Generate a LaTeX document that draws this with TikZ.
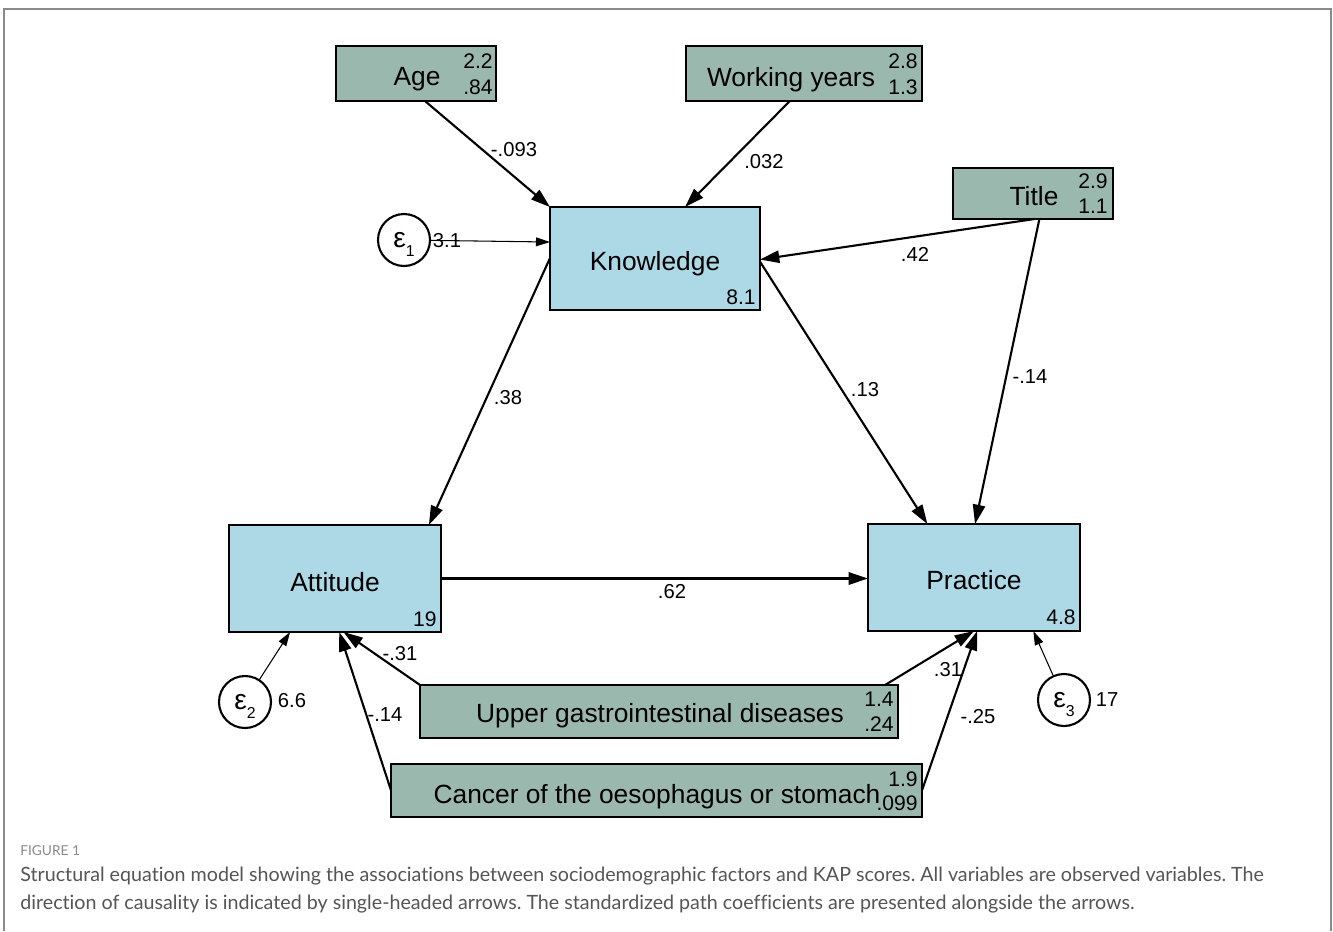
\documentclass[tikz,border=0pt]{standalone}
\usepackage{fontspec}
\setmainfont{Liberation Sans}
\newfontfamily\capfont[Ligatures=NoCommon]{Lato}
\usetikzlibrary{arrows.meta,calc}

\definecolor{obsgreen}{HTML}{9BB8AF}
\definecolor{latblue}{HTML}{ADD8E6}
\definecolor{framegray}{HTML}{8A8A8A}
\definecolor{capgray}{HTML}{555555}

\newcommand{\errlabel}[1]{ε\smash{\raisebox{-5pt}{\fontsize{9}{9}\selectfont #1}}}

\begin{document}
\frenchspacing
\begin{tikzpicture}[x=0.02cm,y=-0.02cm,
 gbox/.style={draw=black,line width=1.4pt,fill=obsgreen,inner sep=0,outer sep=0},
 bbox/.style={draw=black,line width=1.4pt,fill=latblue,inner sep=0,outer sep=0},
 lab/.style={font=\fontsize{15}{18}\selectfont,inner sep=0,anchor=base},
 num/.style={font=\fontsize{12}{14}\selectfont,inner sep=0,anchor=east},
 coef/.style={font=\fontsize{11.5}{14}\selectfont,inner sep=0},
 patharrow/.style={line width=1.2pt,-{Triangle[length=11pt,width=7pt]}},
 errarrow/.style={line width=0.6pt,-{Triangle[length=8pt,width=5pt]}},
 err/.style={circle,draw=black,line width=1.2pt,minimum size=1.04cm,inner sep=0,font=\fontsize{16}{18}\selectfont},
 captxt/.style={font=\capfont\fontsize{11.2}{13}\selectfont,text=capgray,inner sep=0,anchor=base west},
]
\useasboundingbox (0,0) rectangle (1333,931);
\fill[white] (0,0) rectangle (1333,931);
\draw[framegray,line width=1.2pt] (4,931) -- (4,9) -- (1331,9) -- (1331,931);

% boxes
\node[gbox,minimum width=3.2cm,minimum height=1.1cm] (age) at (416,73.5) {};
\node[gbox,minimum width=4.72cm,minimum height=1.1cm] (wy) at (804,73.5) {};
\node[gbox,minimum width=3.2cm,minimum height=1.02cm] (title) at (1033,193.5) {};
\node[bbox,minimum width=4.2cm,minimum height=2.06cm] (know) at (655,258.5) {};
\node[bbox,minimum width=4.24cm,minimum height=2.14cm] (att) at (335,578.5) {};
\node[bbox,minimum width=4.24cm,minimum height=2.14cm] (prac) at (974,577.5) {};
\node[gbox,minimum width=9.56cm,minimum height=1.06cm] (ugi) at (659,711.5) {};
\node[gbox,minimum width=10.62cm,minimum height=1.06cm] (can) at (656.5,790.5) {};

% box labels
\node[lab] (ageT) at (417,85) {Age};
\node[lab] (wyT) at (791,86) {Working years};
\node[lab] (titleT) at (1034,205) {Title};
\node[lab] (knowT) at (655,270) {Knowledge};
\node[lab] (attT) at (335,591) {Attitude};
\node[lab] (pracT) at (974,589) {Practice};
\node[lab] (ugiT) at (660,722) {Upper gastrointestinal diseases};
\node[lab] (canT) at (657,803) {Cancer of the oesophagus or stomach};

% box numbers
\node[num] (ageA) at (493,61) {2.2};
\node[num] (ageB) at (493,87) {.84};
\node[num] (wyA) at (918,61) {2.8};
\node[num] (wyB) at (918,87) {1.3};
\node[num] (titleA) at (1108,181) {2.9};
\node[num] (titleB) at (1108,206) {1.1};
\node[num] (knowA) at (756,297) {8.1};
\node[num] (attA) at (437,619) {19};
\node[num] (pracA) at (1076,617) {4.8};
\node[num] (ugiA) at (894,699) {1.4};
\node[num] (ugiB) at (894,724) {.24};
\node[num] (canA) at (918,779) {1.9};
\node[num] (canB) at (918,803) {.099};

% error terms
\node[err] (e1) at (404,240) {\errlabel{1}};
\node[err] (e2) at (245,702) {\errlabel{2}};
\node[err] (e3) at (1064,700) {\errlabel{3}};

% paths
\draw[patharrow] ($(age.south west)!0.556!(age.south east)$) -- (know.north west);
\draw[patharrow] ($(wy.south west)!0.44!(wy.south east)$) -- ($(know.north west)!0.643!(know.north east)$);
\draw[patharrow] ($(title.south west)!0.51!(title.south east)$) -- ($(know.north east)!0.51!(know.south east)$);
\draw[patharrow] ($(title.south west)!0.54!(title.south east)$) -- ($(prac.north west)!0.505!(prac.north east)$);
\draw[errarrow] (e1) -- ($(know.north west)!0.34!(know.south west)$);
\draw[patharrow] ($(know.north west)!0.495!(know.south west)$) -- ($(att.north west)!0.943!(att.north east)$);
\draw[patharrow] ($(know.north east)!0.53!(know.south east)$) -- ($(prac.north west)!0.28!(prac.north east)$);
\draw[patharrow] (att.east) -- (att.east -| prac.west);
\draw[errarrow] (e2) -- ($(att.south west)!0.288!(att.south east)$);
\draw[patharrow] (ugi.north west) -- ($(att.south west)!0.54!(att.south east)$);
\draw[patharrow] (can.west) -- ($(att.south west)!0.52!(att.south east)$);
\draw[patharrow] ($(ugi.north west)!0.973!(ugi.north east)$) -- ($(prac.south west)!0.5!(prac.south east)$);
\draw[patharrow] (can.east) -- ($(prac.south west)!0.515!(prac.south east)$);
\draw[errarrow] (e3) -- ($(prac.south west)!0.78!(prac.south east)$);

% coefficients
\node[coef] (c1) at (514,150) {-.093};
\node[coef] (c2) at (764,162) {.032};
\node[coef] (c3) at (915,254) {.42};
\node[coef] (c4) at (1030,377) {-.14};
\node[coef] (c5) at (447,241) {3.1};
\node[coef] (c6) at (508,398) {.38};
\node[coef] (c7) at (865,390) {.13};
\node[coef] (c8) at (672,592) {.62};
\node[coef] (c9) at (292,701) {6.6};
\node[coef] (c10) at (400,654) {-.31};
\node[coef] (c11) at (385,715) {-.14};
\node[coef] (c12) at (948,670) {.31};
\node[coef] (c13) at (978,717) {-.25};
\node[coef] (c14) at (1107,700) {17};

% caption
\node[captxt,font=\capfont\fontsize{7.8}{10}\selectfont,text=framegray] (fig) at (20,855) {FIGURE 1};
\node[captxt] (cap1) at (20,881) {Structural equation model showing the associations between sociodemographic factors and KAP scores. All variables are observed variables. The};
\node[captxt] (cap2) at (20,909) {direction of causality is indicated by single-headed arrows. The standardized path coefficients are presented alongside the arrows.};
\end{tikzpicture}
\end{document}
